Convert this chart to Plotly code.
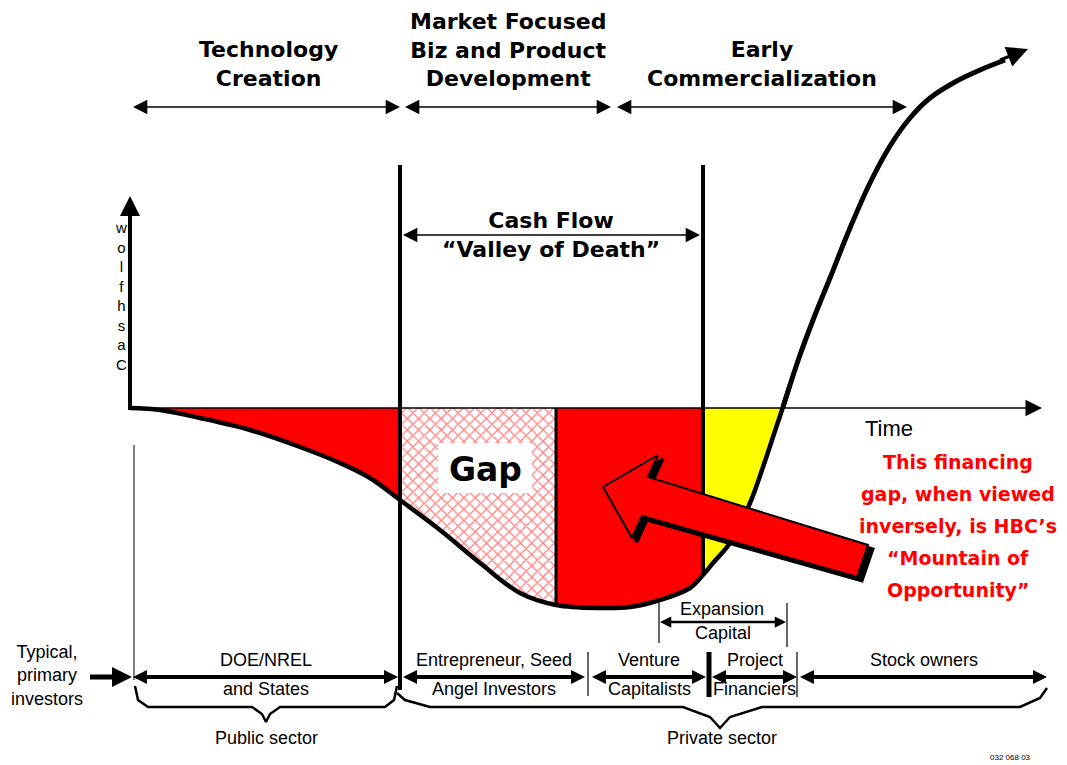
import numpy as np
import plotly.graph_objects as go

# ---------------- data (canvas units, y grows downward) ----------------
time_pts = [130, 160, 200, 250, 300, 340, 370, 400, 440, 480, 520, 556, 600, 630, 660, 690,
            703, 713, 730, 750, 763, 773, 783, 790, 800, 815, 830, 850, 870, 890, 910, 930,
            955, 980, 1005]
cash_pts = [408, 410, 418, 430, 447, 463, 478, 500, 530, 563, 593, 605, 608, 607, 600, 588,
            575, 563, 543, 503, 467, 437, 407, 385, 355, 315, 278, 228, 183, 146, 118, 98,
            82, 70, 60]

phase_names = ["Technology<br>Creation",
               "Market Focused<br>Biz and Product<br>Development",
               "Early<br>Commercialization"]
phase_spans = [(133, 400), (405, 611), (617, 907)]

investor_top = ["DOE/NREL", "Entrepreneur, Seed", "Venture", "Project", "Stock owners"]
investor_bottom = ["and States", "Angel Investors", "Capitalists", "Financiers", ""]
investor_spans = [(133, 398), (403, 585), (592, 706), (712, 797), (800, 1047)]

region_edges = [130, 400, 556, 703, 783]   # funding-stage boundaries on the time axis
message = ["This financing", "gap, when viewed", "inversely, is HBC’s",
           "“Mountain of", "Opportunity”"]

BASE = 408
W, H = 1067, 765
RED, YEL = "#FF0000", "#FFFF00"
HEAD = "DejaVu Sans, Liberation Sans, sans-serif"
ARIAL = "Liberation Sans, Arial, sans-serif"
NARROW = "Liberation Sans Narrow, Arial Narrow, Liberation Sans, sans-serif"

fig = go.Figure()
tx = np.array(time_pts, float)
cy = np.array(cash_pts, float)


def region(x0, x1):
    inner = [(x, y) for x, y in zip(tx, cy) if x0 < x < x1]
    xs = [x0] + [p[0] for p in inner] + [x1]
    ys = [float(np.interp(x0, tx, cy))] + [p[1] for p in inner] + [float(np.interp(x1, tx, cy))]
    xs += [x1, x0, x0]
    ys += [BASE, BASE, ys[0]]
    return xs, ys


def poly(xs, ys, fill, lw=0, lc="black", **kw):
    fig.add_trace(go.Scatter(x=xs, y=ys, mode="lines", fill="toself", fillcolor=fill,
                             line=dict(width=lw, color=lc), hoverinfo="skip",
                             showlegend=False, **kw))


def line(xs, ys, w=2, c="black", shape="linear"):
    fig.add_trace(go.Scatter(x=xs, y=ys, mode="lines",
                             line=dict(width=w, color=c, shape=shape),
                             hoverinfo="skip", showlegend=False))


def arrow(x0, y0, x1, y1, w=1.5, size=2.0, side="end", head=2):
    fig.add_annotation(x=x1, y=y1, ax=x0, ay=y0, xref="x", yref="y", axref="x", ayref="y",
                       text="", font=dict(size=1), borderpad=0, borderwidth=0,
                       showarrow=True, arrowhead=head, startarrowhead=head,
                       arrowsize=size, startarrowsize=size, arrowwidth=w,
                       arrowcolor="black", arrowside=side, standoff=0, startstandoff=0)


def text(x, y, s, size=18, font=NARROW, color="black", bold=False):
    fig.add_annotation(x=x, y=y, xref="x", yref="y", text=f"<b>{s}</b>" if bold else s,
                       showarrow=False, font=dict(family=font, size=size, color=color))


# ---------------- filled regions ----------------
xs, ys = region(region_edges[0], region_edges[1])
poly(xs, ys, RED)
xs, ys = region(region_edges[1], region_edges[2])
poly(xs, ys, "white",
     fillpattern=dict(shape="x", fgcolor=RED, bgcolor="white", size=8, solidity=0.3))
xs, ys = region(region_edges[2], region_edges[3])
poly(xs, ys, RED)
xs, ys = region(region_edges[3], region_edges[4])
poly(xs, ys, YEL)

# Gap box
poly([438, 532, 532, 438, 438], [443, 443, 493, 493, 443], "white")

# vertical stage lines
line([400, 400], [165, 690], 4)
line([703, 703], [165, 576], 4)
line([556, 556], [408, 606], 3)
line([134, 134], [445, 680], 1)

# cash flow curve
lower = tx <= 790
line(list(tx[lower]), list(cy[lower]), 4.5, shape="spline")
line(list(tx[tx >= 783]), list(cy[tx >= 783]), 5, shape="spline")

# big red arrow (shadow + body)
ax_ = [603, 658, 648, 868, 857, 642, 632, 603]
ay_ = [487, 455, 477, 545, 577, 516, 538, 487]
poly([x + 5 for x in ax_], [y + 4 for y in ay_], "black", lw=3)
poly(ax_, ay_, RED, lw=2)

# ---------------- axes ----------------
arrow(130, 410, 130, 196, w=4, size=1.0)
arrow(130, BASE, 1042, BASE, w=1.5, size=2.2)
arrow(1000, 60, 1028, 49, w=3, size=1.4)

# y label (letters stacked vertically as in the original)
text(121, 296, "<br>".join(list("wolfhsaC")), size=15, font=ARIAL)
text(889, 428, "Time", size=22, font=ARIAL)

# ---------------- phase headers ----------------
phase_y = [64, 50, 64]
for name, (a, b), yy in zip(phase_names, phase_spans, phase_y):
    text((a + b) / 2 + (0 if a > 140 else 2), yy, name, size=22, font=HEAD, bold=True)
    arrow(a, 107, b, 107, w=1.3, size=2.2, side="end+start")

# cash flow valley label
text(551, 235, "Cash Flow<br>“Valley of Death”", size=22, font=HEAD, bold=True)
arrow(403, 235, 700, 235, w=1.3, size=2.2, side="end+start")

text(485, 469, "Gap", size=33, font=HEAD, bold=True)

# red message
for i, s in enumerate(message):
    text(958, 462 + i * 32, s, size=19, font=HEAD, color=RED, bold=True)

# ---------------- investors row ----------------
ROW = 677
text(47, 675, "Typical,<br>primary<br>investors", size=18)
arrow(90, ROW, 132, ROW, w=5, size=0.8)
for top, bot, (a, b) in zip(investor_top, investor_bottom, investor_spans):
    m = (a + b) / 2
    arrow(a, ROW, b, ROW, w=4, size=0.7, side="end+start")
    text(m, 660, top, size=18)
    if bot:
        text(m, 689, bot, size=18)

line([588, 588], [652, 696], 1.2)
line([709, 709], [652, 697], 5)
line([797, 797], [652, 697], 1.2)

# expansion capital
line([659, 659], [603, 643], 1.2)
line([787, 787], [603, 647], 1.2)
arrow(660, 622, 786, 622, w=2.5, size=0.9, side="end+start")
text(722, 609, "Expansion", size=18)
text(723, 633, "Capital", size=18)

# brackets
line([135, 138, 148, 252, 262, 266, 270, 280, 385, 394, 397],
     [686, 700, 707, 707, 714, 722, 714, 707, 707, 700, 686], 2.5)
line([397, 405, 430, 683, 710, 720, 730, 762, 1020, 1040, 1047],
     [693, 700, 707, 707, 717, 728, 717, 707, 707, 698, 688], 2.5)
text(266, 738, "Public sector", size=18)
text(722, 738, "Private sector", size=18)
text(1010, 757, "032 068 03", size=8)

fig.update_layout(width=W, height=H, margin=dict(l=0, r=0, t=0, b=0),
                  paper_bgcolor="white", plot_bgcolor="white", showlegend=False,
                  xaxis=dict(range=[0, W], visible=False, fixedrange=True),
                  yaxis=dict(range=[H, 0], visible=False, fixedrange=True))
fig.write_html("out.html")
